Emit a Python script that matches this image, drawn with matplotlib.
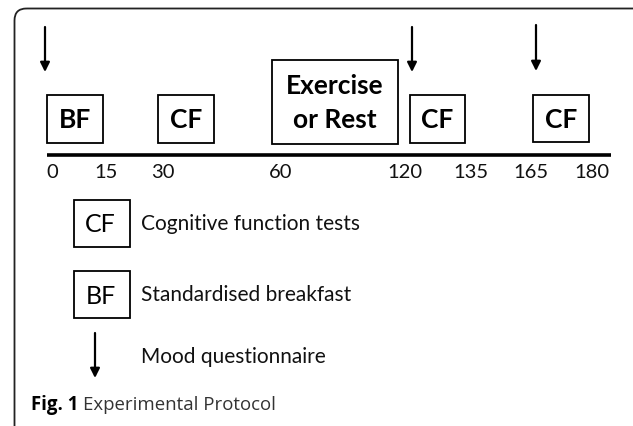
import matplotlib
matplotlib.use("Agg")
import matplotlib.pyplot as plt
from matplotlib.patches import FancyBboxPatch, Rectangle

# ---- data ----
tick_labels = ["0", "15", "30", "60", "120", "135", "165", "180"]
box_labels = ["BF", "CF", "Exercise\nor Rest", "CF", "CF"]
arrow_times = ["0", "120", "165"]
legend_keys = ["CF", "BF", "arrow"]
legend_texts = ["Cognitive function tests", "Standardised breakfast", "Mood questionnaire"]
caption_bold = "Fig. 1"
caption_text = "Experimental Protocol"

# ---- layout (pixel coordinates) ----
tick_x = [52, 106, 163, 281, 405, 471, 531, 592]
box_rects = [(47, 95, 56, 48), (158, 95, 56, 48), (272, 60, 126, 84),
             (410, 95, 55, 48), (533, 95, 56, 47)]
arrow_x = [45, 412, 536]
arrow_y = [(27, 72), (27, 72), (25, 71)]
leg_box_y = [200, 271]
leg_text_y = [224, 295, 357]

W, H = 633, 426
fig = plt.figure(figsize=(W / 100, H / 100), dpi=100)
ax = fig.add_axes([0, 0, 1, 1])
ax.set_xlim(0, W)
ax.set_ylim(H, 0)
ax.axis("off")

FONT = "Lato"

# outer rounded frame
frame = FancyBboxPatch((14.5, 8.5), 640, 440, boxstyle="round,pad=0,rounding_size=12",
                       fill=False, lw=1.3, ec="#222222")
ax.add_patch(frame)

# timeline
ax.plot([47, 611], [155, 155], color="black", lw=2.6, solid_capstyle="butt")
for lab, x in zip(tick_labels, tick_x):
    ax.text(x, 173, lab, ha="center", va="center", fontsize=14.5, family=FONT, color="#111111")

# boxes
for lab, (x, y, w, h) in zip(box_labels, box_rects):
    ax.add_patch(Rectangle((x, y), w, h, fill=False, lw=1.3, ec="black"))
    ax.text(x + w / 2, y + h / 2 + 1.5, lab, ha="center", va="center", fontsize=19,
            fontweight="bold", family=FONT, linespacing=1.5)

# arrows
def draw_arrow(x, y0, y1):
    ax.annotate("", xy=(x, y1), xytext=(x, y0),
                arrowprops=dict(arrowstyle="-|>", color="black", lw=1.6,
                                mutation_scale=14, shrinkA=0, shrinkB=0))

for t, x, (y0, y1) in zip(arrow_times, arrow_x, arrow_y):
    draw_arrow(x, y0, y1)

# legend
for key, y, tx in zip(legend_keys[:2], leg_box_y, [100, 101]):
    ax.add_patch(Rectangle((74, y), 56, 47, fill=False, lw=1.3, ec="black"))
    ax.text(tx, y + 25, key, ha="center", va="center", fontsize=18, family=FONT)
draw_arrow(95, 333, 378)
for txt, y in zip(legend_texts, leg_text_y):
    ax.text(141, y, txt, ha="left", va="center", fontsize=15, family=FONT, color="#111111")

# caption
t1 = ax.text(31, 405, caption_bold + " ", ha="left", va="center", fontsize=13.4,
             fontweight="bold", family="Open Sans")
fig.canvas.draw()
bb = t1.get_window_extent()
x_next = ax.transData.inverted().transform((bb.x1, bb.y0))[0]
ax.text(x_next, 405, caption_text, ha="left", va="center", fontsize=13.4,
        family="Open Sans", color="#333333")

fig.savefig("out.png", dpi=100)
